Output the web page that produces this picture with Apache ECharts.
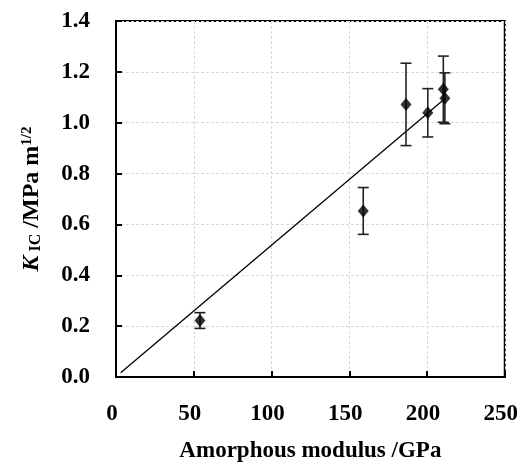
<!DOCTYPE html>
<html>
<head>
<meta charset="utf-8">
<script src="https://cdn.jsdelivr.net/npm/echarts@6/dist/echarts.min.js"></script>
<style>html,body{margin:0;padding:0;background:#fff}#c{width:521px;height:468px}</style>
</head>
<body>
<div id="c"></div>
<script>
// Data
const modulus = [54, 159, 186.5, 200.5, 210.5, 211.5];
const kic     = [0.222, 0.653, 1.072, 1.039, 1.132, 1.096];
const kicErr  = [0.031, 0.092, 0.162, 0.095, 0.130, 0.100];
const trendX  = [3, 212];
const trendY  = [0.017, 1.097];
const xTicks  = [0, 50, 100, 150, 200, 250];
const yTicks  = [0.0, 0.2, 0.4, 0.6, 0.8, 1.0, 1.2, 1.4];

const FONT = '"Liberation Serif", "Times New Roman", serif';
const chart = echarts.init(document.getElementById('c'), null, {renderer: 'canvas'});

const points = modulus.map((x, i) => [x, kic[i]]);
const errData = modulus.map((x, i) => [x, kic[i] - kicErr[i], kic[i] + kicErr[i]]);
const trend = trendX.map((x, i) => [x, trendY[i]]);

chart.setOption({
  animation: false,
  backgroundColor: '#fff',
  grid: {left: 116, right: 16, top: 21, bottom: 90, show: true, borderColor: '#000', borderWidth: 2, backgroundColor: 'transparent'},
  xAxis: {
    type: 'value', min: xTicks[0], max: xTicks[xTicks.length - 1], interval: 50,
    axisLine: {show: true, lineStyle: {color: '#000', width: 2}},
    axisTick: {show: true, inside: true, length: 6, lineStyle: {color: '#000', width: 2}},
    axisLabel: {margin: 26, color: '#000', fontFamily: FONT, fontWeight: 'bold', fontSize: 23, padding: [0, 8, 0, 0]},
    splitLine: {show: true, lineStyle: {color: '#d9d9d9', width: 1, type: [3, 2]}},
    name: 'Amorphous modulus /GPa', nameLocation: 'middle', nameGap: 63,
    nameTextStyle: {color: '#000', fontFamily: FONT, fontWeight: 'bold', fontSize: 23, padding: [0, 0, 0, 0]}
  },
  yAxis: {
    type: 'value', min: yTicks[0], max: yTicks[yTicks.length - 1], interval: 0.2,
    axisLine: {show: true, lineStyle: {color: '#000', width: 2}},
    axisTick: {show: true, inside: true, length: 6, lineStyle: {color: '#000', width: 2}},
    axisLabel: {margin: 26, color: '#000', fontFamily: FONT, fontWeight: 'bold', fontSize: 23,
      formatter: v => v.toFixed(1)},
    splitLine: {show: true, lineStyle: {color: '#d9d9d9', width: 1, type: [3, 2]}},
    name: '{k|K}{s| IC}{m| /MPa m}{p|1/2}', nameLocation: 'middle', nameGap: 72, nameRotate: 90,
    nameTextStyle: {
      color: '#000', fontFamily: FONT, fontWeight: 'bold',
      rich: {
        k: {fontFamily: FONT, fontWeight: 'bold', fontStyle: 'italic', fontSize: 24, lineHeight: 24, verticalAlign: 'bottom', color: '#000'},
        s: {fontFamily: FONT, fontWeight: 'bold', fontSize: 16, lineHeight: 17, verticalAlign: 'bottom', color: '#000'},
        m: {fontFamily: FONT, fontWeight: 'bold', fontSize: 24, lineHeight: 24, verticalAlign: 'bottom', color: '#000'},
        p: {fontFamily: FONT, fontWeight: 'bold', fontSize: 15, lineHeight: 15, verticalAlign: 'top', color: '#000'}
      }
    }
  },
  series: [
    {
      type: 'line', data: trend, symbol: 'none', lineStyle: {color: '#000', width: 1.3}, z: 2
    },
    {
      type: 'custom', data: errData, z: 3,
      renderItem: function (params, api) {
        const x = api.value(0);
        const lo = api.coord([x, api.value(1)]);
        const hi = api.coord([x, api.value(2)]);
        const w = 5.5;
        const st = {stroke: '#222', lineWidth: 1.6};
        return {type: 'group', children: [
          {type: 'line', shape: {x1: lo[0], y1: lo[1], x2: hi[0], y2: hi[1]}, style: st},
          {type: 'line', shape: {x1: lo[0] - w, y1: lo[1], x2: lo[0] + w, y2: lo[1]}, style: st},
          {type: 'line', shape: {x1: hi[0] - w, y1: hi[1], x2: hi[0] + w, y2: hi[1]}, style: st}
        ]};
      }
    },
    {
      type: 'scatter', data: points, symbol: 'diamond', symbolSize: [11, 13],
      itemStyle: {color: '#000'}, z: 4
    }
  ]
});
</script>
</body>
</html>
